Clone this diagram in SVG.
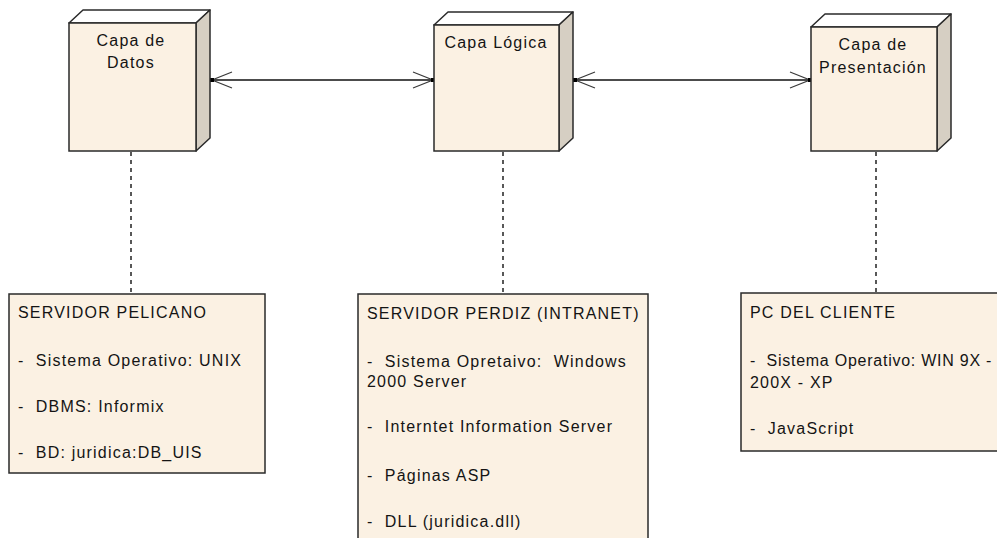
<svg xmlns="http://www.w3.org/2000/svg" width="997" height="538" viewBox="0 0 997 538">
  <style>
    .front { fill: #fbf1e3; stroke: #2a2a2a; stroke-width: 1.5; }
    .top { fill: #ffffff; stroke: #2a2a2a; stroke-width: 1.5; stroke-linejoin: round; }
    .side { fill: #d6cfc3; stroke: #2a2a2a; stroke-width: 1.5; stroke-linejoin: round; }
    .box { fill: #fbf1e3; stroke: #2a2a2a; stroke-width: 1.5; }
    text { font-family: "Liberation Sans", Arial, sans-serif; font-size: 16px; letter-spacing: 1.2px; fill: #141414; }
    .title { text-anchor: middle; }
    .tight { letter-spacing: 0.75px; }
    .assoc { stroke: #111; stroke-width: 1.6; fill: none; }
    .dep { stroke: #222; stroke-width: 1.5; stroke-dasharray: 4 4; fill: none; }
  </style>
  <defs>
    <marker id="openArrow" markerUnits="userSpaceOnUse" viewBox="-23 -11 26 22" markerWidth="26" markerHeight="22" refX="0" refY="0" orient="auto-start-reverse" overflow="visible">
      <path d="M-20,-8 L0,0 L-20,8" fill="none" stroke="#3a3a3a" stroke-width="1.2"/>
      <rect x="-2" y="-2" width="4" height="4" fill="#000"/>
    </marker>
  </defs>

  <rect width="997" height="538" fill="#ffffff"/>

  <!-- Connectors: associations between tiers and dependencies to the hosting machines -->
  <g id="connectors">
    <line class="assoc" x1="212" y1="80" x2="433" y2="80" marker-start="url(#openArrow)" marker-end="url(#openArrow)"/>
    <line class="assoc" x1="575" y1="80" x2="810" y2="80" marker-start="url(#openArrow)" marker-end="url(#openArrow)"/>
    <line class="dep" x1="131" y1="152" x2="131" y2="294"/>
    <line class="dep" x1="503" y1="152" x2="503" y2="294"/>
    <line class="dep" x1="876" y1="152" x2="876" y2="293"/>
  </g>

  <!-- Tier nodes (3D boxes) -->
  <g id="capa-datos">
    <polygon class="top" points="69,23 83,10 210,10 196,23"/>
    <polygon class="side" points="196,23 210,10 210,138 196,151"/>
    <rect class="front" x="69" y="23" width="127" height="128"/>
    <text class="title" x="131" y="46">Capa de</text>
    <text class="title" x="131" y="68">Datos</text>
  </g>

  <g id="capa-logica">
    <polygon class="top" points="434,25 448,12 573,12 559,25"/>
    <polygon class="side" points="559,25 573,12 573,138 559,151"/>
    <rect class="front" x="434" y="25" width="125" height="126"/>
    <text class="title" x="496" y="48">Capa Lógica</text>
  </g>

  <g id="capa-presentacion">
    <polygon class="top" points="811,27 825,14 951,14 937,27"/>
    <polygon class="side" points="937,27 951,14 951,138 937,151"/>
    <rect class="front" x="811" y="27" width="126" height="124"/>
    <text class="title" x="873" y="50">Capa de</text>
    <text class="title" x="873" y="73">Presentación</text>
  </g>

  <!-- Hosting machines -->
  <g id="servidor-pelicano">
    <rect class="box" x="9" y="294" width="256" height="179"/>
    <text x="18" y="318" xml:space="preserve">SERVIDOR PELICANO</text>
    <text x="18" y="366" xml:space="preserve">-  Sistema Operativo: UNIX</text>
    <text x="18" y="412" xml:space="preserve">-  DBMS: Informix</text>
    <text x="18" y="458" xml:space="preserve">-  BD: juridica:DB_UIS</text>
  </g>

  <g id="servidor-perdiz">
    <rect class="box" x="358" y="294" width="290" height="260"/>
    <text x="367" y="319" xml:space="preserve">SERVIDOR PERDIZ (INTRANET)</text>
    <text x="367" y="367" xml:space="preserve">-  Sistema Opretaivo:  Windows</text>
    <text x="367" y="387" xml:space="preserve">2000 Server</text>
    <text x="367" y="432" xml:space="preserve">-  Interntet Information Server</text>
    <text x="367" y="481" xml:space="preserve">-  Páginas ASP</text>
    <text x="367" y="527" xml:space="preserve">-  DLL (juridica.dll)</text>
  </g>

  <g id="pc-cliente">
    <rect class="box" x="741" y="293" width="270" height="158"/>
    <text x="750" y="318" xml:space="preserve">PC DEL CLIENTE</text>
    <text class="tight" x="750" y="366" xml:space="preserve">-  Sistema Operativo: WIN 9X -</text>
    <text x="750" y="388" xml:space="preserve">200X - XP</text>
    <text x="750" y="434" xml:space="preserve">-  JavaScript</text>
  </g>
</svg>
